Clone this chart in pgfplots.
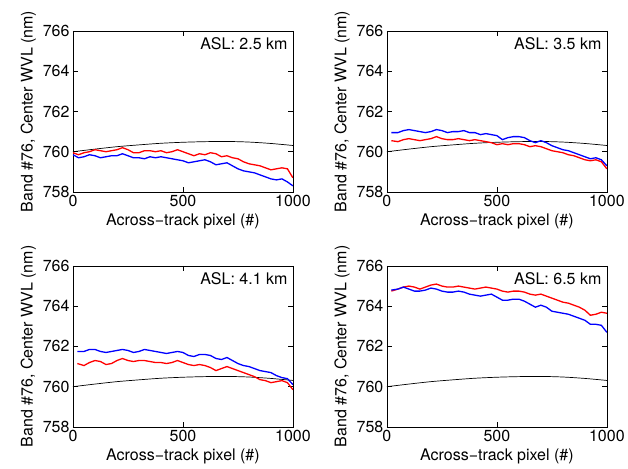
\documentclass[border=0pt]{standalone}
\usepackage{fontspec}
\setmainfont{TeX Gyre Heros}
\usepackage{pgfplots}
\pgfplotsset{compat=1.18}
\usepgfplotslibrary{groupplots}
\newcommand{\ff}{\fontsize{16}{19}\selectfont}
\pgfplotstableread{
x y
0 760.00
100 760.13
200 760.25
300 760.34
400 760.42
500 760.47
600 760.50
700 760.51
800 760.48
900 760.41
1000 760.31
}\blackcurve
\pgfplotstableread{
x r b
0 759.95 759.85
25 759.85 759.70
50 759.95 759.75
75 760.00 759.85
100 760.10 759.80
125 760.05 759.70
150 760.00 759.75
175 760.05 759.80
200 760.10 759.80
225 760.20 759.90
250 760.10 759.80
275 759.95 759.70
300 759.95 759.70
325 760.05 759.65
350 760.05 759.75
375 760.00 759.70
400 760.05 759.75
425 759.95 759.70
450 760.00 759.65
475 760.10 759.60
500 760.00 759.55
525 759.90 759.45
550 759.80 759.50
575 759.90 759.55
600 759.85 759.60
625 759.95 759.50
650 759.90 759.35
675 759.75 759.40
700 759.80 759.45
725 759.70 759.30
750 759.65 759.15
775 759.50 759.05
800 759.40 759.00
825 759.35 758.95
850 759.30 758.85
875 759.20 758.75
900 759.10 758.65
925 759.15 758.60
950 759.20 758.65
975 759.15 758.50
1000 758.70 758.30
}\pa
\pgfplotstableread{
x r b
20 760.55 760.95
50 760.50 760.95
75 760.60 761.05
100 760.65 761.10
125 760.60 761.05
150 760.55 761.00
175 760.60 760.95
200 760.65 761.00
225 760.75 761.10
250 760.65 761.05
275 760.60 760.95
300 760.60 761.00
325 760.65 761.00
350 760.60 761.05
375 760.55 760.95
400 760.60 760.95
425 760.55 760.85
450 760.50 760.90
475 760.45 760.85
500 760.35 760.80
525 760.40 760.60
550 760.35 760.70
575 760.40 760.75
600 760.40 760.75
625 760.35 760.70
650 760.25 760.55
675 760.30 760.45
700 760.25 760.55
725 760.15 760.45
750 760.05 760.30
775 760.00 760.20
800 759.95 760.10
825 759.85 760.05
850 759.80 759.95
875 759.70 759.85
900 759.60 759.75
925 759.55 759.65
950 759.60 759.70
975 759.50 759.60
1000 759.15 759.30
}\pb
\pgfplotstableread{
x r b
20 761.15 761.75
50 761.05 761.75
75 761.20 761.85
100 761.30 761.85
125 761.25 761.75
150 761.10 761.70
175 761.15 761.75
200 761.30 761.80
225 761.40 761.85
250 761.30 761.80
275 761.25 761.70
300 761.30 761.75
325 761.30 761.85
350 761.25 761.80
375 761.20 761.75
400 761.20 761.70
425 761.15 761.65
450 761.20 761.70
475 761.30 761.75
500 761.20 761.70
525 761.10 761.55
550 761.05 761.50
575 761.10 761.60
600 761.05 761.60
625 760.95 761.55
650 760.80 761.40
675 760.90 761.35
700 761.00 761.45
725 760.90 761.30
750 760.80 761.15
775 760.70 761.05
800 760.60 761.00
825 760.50 760.90
850 760.35 760.80
875 760.30 760.75
900 760.20 760.70
925 760.25 760.55
950 760.30 760.45
975 760.20 760.40
1000 759.85 760.10
}\pc
\pgfplotstableread{
x r b
20 764.75 764.80
50 764.85 764.85
75 764.95 764.95
100 765.00 764.85
125 764.95 764.75
150 764.85 764.75
175 764.95 764.80
200 765.05 764.90
225 765.10 764.85
250 765.00 764.75
275 764.95 764.70
300 764.95 764.70
325 765.00 764.75
350 764.95 764.70
375 764.90 764.60
400 764.85 764.55
425 764.90 764.50
450 764.95 764.55
475 764.90 764.60
500 764.85 764.45
525 764.75 764.30
550 764.70 764.30
575 764.75 764.35
600 764.75 764.35
625 764.70 764.25
650 764.60 764.10
675 764.55 763.95
700 764.60 764.05
725 764.50 763.95
750 764.40 763.75
775 764.30 763.70
800 764.20 763.65
825 764.15 763.60
850 764.05 763.50
875 763.95 763.40
900 763.80 763.30
925 763.55 763.10
950 763.60 763.10
975 763.70 763.05
1000 763.65 762.70
}\pd
\begin{document}
\begin{tikzpicture}
\begin{groupplot}[
  group style={group size=2 by 2, horizontal sep=94pt, vertical sep=74pt},
  width=220pt, height=161pt, scale only axis,
  xmin=0, xmax=1000, ymin=758, ymax=766,
  xtick={0,500,1000}, ytick={758,760,762,764,766},
  /pgf/number format/1000 sep={}, /pgf/number format/assume math mode=true,
  tick label style={font=\ff},
  label style={font=\ff},
  xlabel={Across−track pixel (\#)},
  ylabel={Band \#76,  Center WVL (nm)},
  major tick length=5pt,
  tick style={black, line width=0.5pt},
  axis line style={line width=0.6pt},
  red line/.style={red, line width=1.3pt},
  blue line/.style={blue, line width=1.3pt},
]
\nextgroupplot
\addplot[black, line width=0.7pt, smooth] table[x=x,y=y] {\blackcurve};
\addplot[red line] table[x=x,y=r] {\pa};
\addplot[blue line] table[x=x,y=b] {\pa};
\node[anchor=north east, font=\ff, inner sep=2pt] at (rel axis cs:0.985,0.975) {ASL: 2.5 km};
\nextgroupplot
\addplot[black, line width=0.7pt, smooth] table[x=x,y=y] {\blackcurve};
\addplot[red line] table[x=x,y=r] {\pb};
\addplot[blue line] table[x=x,y=b] {\pb};
\node[anchor=north east, font=\ff, inner sep=2pt] at (rel axis cs:0.985,0.975) {ASL: 3.5 km};
\nextgroupplot
\addplot[black, line width=0.7pt, smooth] table[x=x,y=y] {\blackcurve};
\addplot[red line] table[x=x,y=r] {\pc};
\addplot[blue line] table[x=x,y=b] {\pc};
\node[anchor=north east, font=\ff, inner sep=2pt] at (rel axis cs:0.985,0.975) {ASL: 4.1 km};
\nextgroupplot
\addplot[black, line width=0.7pt, smooth] table[x=x,y=y] {\blackcurve};
\addplot[red line] table[x=x,y=r] {\pd};
\addplot[blue line] table[x=x,y=b] {\pd};
\node[anchor=north east, font=\ff, inner sep=2pt] at (rel axis cs:0.985,0.975) {ASL: 6.5 km};
\end{groupplot}
\path (group c1r1.north west) ++(-73pt,31pt) coordinate (A);
\path (group c2r2.south east) ++(21pt,-42pt) coordinate (B);
\path (A) rectangle (B);
\end{tikzpicture}
\end{document}
